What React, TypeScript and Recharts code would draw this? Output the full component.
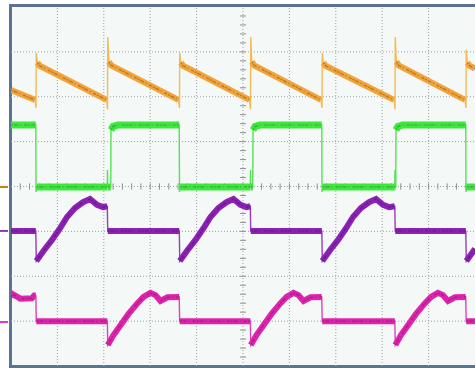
import { LineChart, Line, XAxis, YAxis, ReferenceLine } from 'recharts';

type Pt = [number, number];

// time in screen divisions (0..10), level in divisions (-4..4)
const orangeTrace: Pt[] = [
  [0, 2.15], [0.52, 1.93], [0.539, 1.75], [0.544, 2.98], [0.57, 2.76], [0.62, 2.69],
  [2.06, 1.93], [2.08, 1.72], [2.085, 3.33], [2.11, 2.78], [2.16, 2.7],
  [3.61, 1.93], [3.631, 1.75], [3.636, 2.98], [3.66, 2.76], [3.71, 2.69],
  [5.14, 1.93], [5.162, 1.72], [5.167, 3.33], [5.19, 2.78], [5.24, 2.7],
  [6.68, 1.93], [6.703, 1.75], [6.708, 2.98], [6.73, 2.76], [6.78, 2.69],
  [8.255, 1.93], [8.276, 1.72], [8.281, 3.33], [8.305, 2.78], [8.355, 2.7],
  [9.785, 1.93], [9.806, 1.75], [9.811, 3.05], [9.835, 2.76], [9.885, 2.69],
  [10, 2.63],
];

const greenTrace: Pt[] = [
  [0, 1.37], [0.535, 1.37], [0.539, -0.12], [0.55, -0.01],
  [2.075, -0.01], [2.08, 0.37], [2.085, -0.01], [2.15, -0.01], [2.155, 1.26], [2.2, 1.34], [2.3, 1.37],
  [3.626, 1.37], [3.631, -0.12], [3.645, -0.01],
  [5.157, -0.01], [5.162, 0.37], [5.167, -0.01], [5.21, -0.01], [5.216, 1.26], [5.26, 1.34], [5.36, 1.37],
  [6.698, 1.37], [6.703, -0.12], [6.715, -0.01],
  [8.271, -0.01], [8.276, 0.37], [8.281, -0.01], [8.292, -0.01], [8.297, 1.26], [8.34, 1.34], [8.44, 1.37],
  [9.801, 1.37], [9.806, -0.12], [9.82, -0.01], [10, -0.01],
];

const purpleTrace: Pt[] = [
  [0, -0.99], [0.535, -0.99],
  [0.545, -1.66], [0.711, -1.42], [0.884, -1.19], [1.056, -0.93], [1.207, -0.68], [1.379, -0.48],
  [1.552, -0.35], [1.703, -0.28], [1.854, -0.41], [1.983, -0.46], [2.075, -0.44], [2.085, -0.99],
  [3.627, -0.99],
  [3.637, -1.66], [3.803, -1.42], [3.976, -1.19], [4.148, -0.93], [4.299, -0.68], [4.471, -0.48],
  [4.644, -0.35], [4.795, -0.28], [4.946, -0.41], [5.075, -0.46], [5.157, -0.44], [5.167, -0.99],
  [6.699, -0.99],
  [6.709, -1.66], [6.875, -1.42], [7.048, -1.19], [7.22, -0.93], [7.371, -0.68], [7.543, -0.48],
  [7.716, -0.35], [7.867, -0.28], [8.018, -0.41], [8.147, -0.46], [8.271, -0.44], [8.281, -0.99],
  [9.802, -0.99],
  [9.812, -1.66], [9.978, -1.42], [10, -1.39],
];

const magentaTrace: Pt[] = [
  [0, -2.46], [0.04, -2.4], [0.2, -2.5], [0.45, -2.49], [0.5, -2.43], [0.535, -2.43], [0.545, -3.0],
  [2.076, -3.0], [2.086, -3.53], [2.209, -3.31], [2.36, -3.09], [2.533, -2.84], [2.727, -2.6], [2.856, -2.46],
  [3.007, -2.37], [3.114, -2.42], [3.222, -2.55], [3.373, -2.47], [3.625, -2.46], [3.635, -3.0],
  [5.158, -3.0], [5.168, -3.53], [5.291, -3.31], [5.442, -3.09], [5.615, -2.84], [5.809, -2.6], [5.938, -2.46],
  [6.089, -2.37], [6.196, -2.42], [6.304, -2.55], [6.455, -2.47], [6.697, -2.46], [6.707, -3.0],
  [8.272, -3.0], [8.282, -3.53], [8.405, -3.31], [8.556, -3.09], [8.729, -2.84], [8.923, -2.6], [9.052, -2.46],
  [9.203, -2.37], [9.31, -2.42], [9.418, -2.55], [9.569, -2.47], [9.8, -2.46], [9.81, -3.0],
  [10, -3.0],
];

// channel reference markers on the left edge
const markerLevels = [-0.01, -0.99, -3.02];
const markerColors = ['#b8841c', '#8a3aa8', '#e23ac8'];

const gridTimes = [1, 2, 3, 4, 5, 6, 7, 8, 9];
const gridLevels = [-3, -2, -1, 0, 1, 2, 3];
const minorTimes = Array.from({ length: 49 }, (_, i) => +((i + 1) * 0.2).toFixed(1));
const minorLevels = Array.from({ length: 39 }, (_, i) => +(-4 + (i + 1) * 0.2).toFixed(1));

const toRows = (tr: Pt[]) => tr.map(([t, v]) => ({ t, v }));

// the noisy band only sits on the slow parts, fast edges stay thin
const withGaps = (tr: Pt[]) => {
  const out: { t: number; v: number | null }[] = [];
  tr.forEach(([t, v], i) => {
    if (i > 0) {
      const [pt, pv] = tr[i - 1];
      if (Math.abs((v - pv) / (t - pt)) > 6) out.push({ t: (t + pt) / 2, v: null });
    }
    out.push({ t, v });
  });
  return out;
};

const channels = [
  { key: 'ch1', trace: orangeTrace, band: '#f2a43a', core: '#8b5a1e', thin: '#f4bb55', w: 6 },
  { key: 'ch2', trace: greenTrace, band: '#3ee63e', core: '#1f9a1f', thin: '#55e055', w: 7 },
  { key: 'ch3', trace: purpleTrace, band: '#8c22b4', core: '#5a0c80', thin: '#9a3ac0', w: 6 },
  { key: 'ch4', trace: magentaTrace, band: '#dc24ad', core: '#8f1474', thin: '#e040b8', w: 6 },
];

const MarkerTick = (props: any) => {
  const { y, payload } = props;
  const idx = markerLevels.indexOf(payload.value);
  return <line x1={0} x2={8} y1={y} y2={y} stroke={markerColors[idx]} strokeWidth={2} />;
};

const gridStyle = { stroke: '#a0a0a0', strokeDasharray: '1 2', strokeWidth: 1 };

export default function App() {
  return (
    <div style={{ position: 'absolute', left: 0, top: 0, width: 475, height: 368, background: '#fff' }}>
      <div
        style={{
          position: 'absolute',
          left: 9,
          top: 4,
          width: 466,
          height: 364,
          boxSizing: 'border-box',
          borderLeft: '3px solid #5a7593',
          borderTop: '3px solid #5a7593',
          borderBottom: '3px solid #5a7593',
          background: '#f4f8f6',
        }}
      />
      <div style={{ position: 'absolute', left: 0, top: 0 }}>
        <LineChart width={475} height={368} margin={{ top: 7, right: 0, left: 0, bottom: 2 }}>
          <XAxis dataKey="t" type="number" domain={[0, 10]} allowDataOverflow hide />
          <YAxis
            type="number"
            domain={[-4, 4]}
            allowDataOverflow
            width={11}
            ticks={markerLevels}
            interval={0}
            axisLine={false}
            tickLine={false}
            tick={<MarkerTick />}
          />
          {gridTimes.map((t) => (
            <ReferenceLine key={'gx' + t} x={t} {...gridStyle} />
          ))}
          {gridLevels.map((v) => (
            <ReferenceLine key={'gy' + v} y={v} {...gridStyle} />
          ))}
          {minorTimes.map((t) => (
            <ReferenceLine
              key={'mx' + t}
              segment={[{ x: t, y: -0.07 }, { x: t, y: 0.07 }]}
              stroke="#909090"
              strokeWidth={1}
            />
          ))}
          {minorLevels.map((v) => (
            <ReferenceLine
              key={'my' + v}
              segment={[{ x: 4.935, y: v }, { x: 5.065, y: v }]}
              stroke="#909090"
              strokeWidth={1}
            />
          ))}
          {channels.map((c) => (
            <Line
              key={c.key + 'thin'}
              data={toRows(c.trace)}
              dataKey="v"
              type="linear"
              stroke={c.thin}
              strokeWidth={1.4}
              dot={false}
              activeDot={false}
              isAnimationActive={false}
            />
          ))}
          {channels.map((c) => (
            <Line
              key={c.key + 'band'}
              data={withGaps(c.trace)}
              dataKey="v"
              type="linear"
              stroke={c.band}
              strokeWidth={c.w}
              dot={false}
              activeDot={false}
              isAnimationActive={false}
            />
          ))}
          {channels.map((c) => (
            <Line
              key={c.key + 'core'}
              data={withGaps(c.trace)}
              dataKey="v"
              type="linear"
              stroke={c.core}
              strokeWidth={1.2}
              strokeDasharray="2 1 4 2 1 3 3 1"
              strokeOpacity={0.65}
              dot={false}
              activeDot={false}
              isAnimationActive={false}
            />
          ))}
        </LineChart>
      </div>
    </div>
  );
}
